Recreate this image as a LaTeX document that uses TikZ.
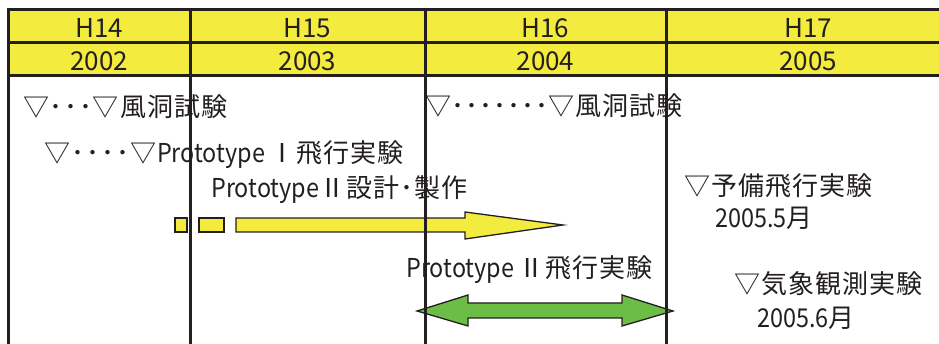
\documentclass[tikz,border=0pt]{standalone}
\usepackage{fontspec}
\setmainfont{Noto Sans CJK JP}
\newfontfamily\latnarrow[FakeStretch=0.9]{Noto Sans CJK JP}
\newfontfamily\cjkwide[LetterSpace=4]{Noto Sans CJK JP}
\newcommand\dotsp[1]{\makebox[#1]{･}}
\newcommand\lt[1]{{\latnarrow #1}}
\definecolor{ink}{HTML}{231F20}
\definecolor{hdrfill}{HTML}{F3EC3E}
\definecolor{barfill}{HTML}{F3EC3E}
\definecolor{greenfill}{HTML}{6CBD45}
\begin{document}
\begin{tikzpicture}[x=1pt,y=-1pt,
  lbl/.style={font=\fontsize{26}{30}\cjkwide, inner sep=0pt, anchor=base west, text=ink},
  hdr/.style={font=\fontsize{26}{30}\selectfont, inner sep=0pt, anchor=base, text=ink},
  grid/.style={draw=ink, line width=3pt},
  shapeline/.style={draw=ink, line width=1.3pt, line join=miter}]
\useasboundingbox (0,0) rectangle (939,344);
% header
\fill[hdrfill] (8,10) rectangle (950,76);
% header texts
\node[hdr] (h14) at (99,38) {H14};
\node[hdr] (h15) at (307.5,38) {H15};
\node[hdr] (h16) at (545.5,38) {H16};
\node[hdr] (h17) at (808,38) {H17};
\node[hdr] (y02) at (99,71) {2002};
\node[hdr] (y03) at (307.5,71) {2003};
\node[hdr] (y04) at (545.5,71) {2004};
\node[hdr] (y05) at (808,71) {2005};
% labels
\node[lbl] (w1) at (23,117) {▽\dotsp{14.6pt}\dotsp{14.6pt}\dotsp{14.6pt}▽風洞試験};
\node[lbl] (p1) at (44,163) {▽\dotsp{15.2pt}\dotsp{15.2pt}\dotsp{15.2pt}\dotsp{15.2pt}▽\lt{Prototype}\,Ⅰ飛行実験};
\node[lbl] (p2d) at (211,198) {\lt{Prototype}Ⅱ設計･製作};
\node[lbl] (w2) at (425,116) {▽\dotsp{13.9pt}\dotsp{13.9pt}\dotsp{13.9pt}\dotsp{13.9pt}\dotsp{13.9pt}\dotsp{13.9pt}\dotsp{13.9pt}▽風洞試験};
\node[lbl] (p2f) at (406,278) {\lt{Prototype}\,Ⅱ飛行実験};
\node[lbl] (pre) at (684,196) {▽予備飛行実験};
\node[lbl] (pred) at (715,228) {\lt{2005.5}月};
\node[lbl] (met) at (734,294) {▽気象観測実験};
\node[lbl] (metd) at (757,327) {\lt{2005.6}月};
% yellow bars and arrow
\draw[shapeline, fill=barfill] (175,218) rectangle (187,232);
\draw[shapeline, fill=barfill] (199,218) rectangle (224,232);
\draw[shapeline, fill=barfill] (236,218) -- (465,218) -- (465,212) -- (563,225)
  -- (465,239) -- (465,232) -- (236,232) -- cycle;
% green double arrow
\draw[shapeline, fill=greenfill] (417,311) -- (468,295) -- (468,303) -- (622,303)
  -- (622,295) -- (673,311) -- (622,326) -- (622,318) -- (468,318) -- (468,326) -- cycle;
% grid lines
\draw[grid] (8,10) -- (950,10);
\draw[grid] (8,43) -- (950,43);
\draw[grid] (8,76) -- (950,76);
\draw[grid] (8,8.5) -- (8,350);
\draw[grid] (190,10) -- (190,350);
\draw[grid] (425,10) -- (425,350);
\draw[grid] (666,10) -- (666,350);
\end{tikzpicture}
\end{document}
